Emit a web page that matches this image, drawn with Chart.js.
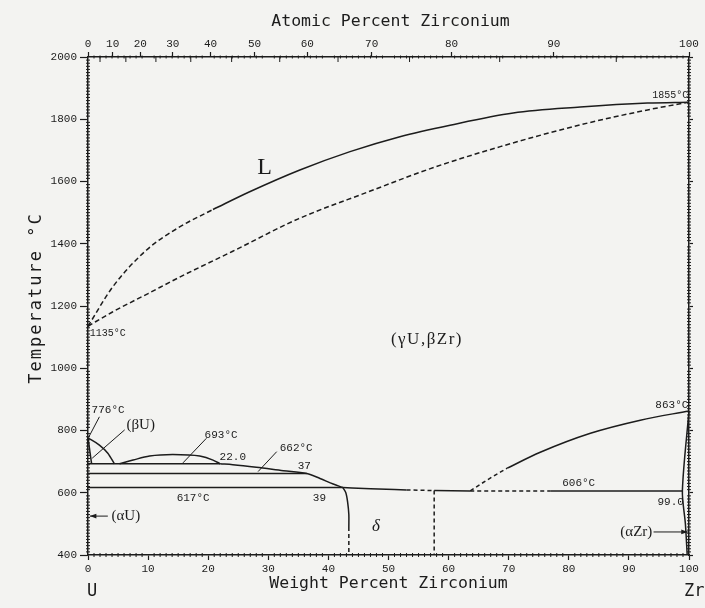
<!DOCTYPE html>
<html>
<head>
<meta charset="utf-8">
<script src="https://cdn.jsdelivr.net/npm/chart.js@4.4.1/dist/chart.umd.min.js"></script>
<style>
  body { margin: 0; background: #f3f3f1; }
  #wrap { width: 705px; height: 608px; }
</style>
</head>
<body>
<div id="wrap"><canvas id="myChart" width="705" height="608"></canvas></div>
<script>
// weight percent Zr (x) / temperature degC (y)
var liqDashWt = [0, 4.1, 9.75, 15.25, 20.8];
var liqDashT  = [1135, 1261, 1380, 1454, 1510];
var liqWt = [20.8, 26.9, 35.25, 43.6, 51.9, 60.25, 70.75, 81.9, 93.1, 100];
var liqT  = [1510, 1567, 1637, 1696, 1744, 1781, 1820, 1839, 1852, 1855];
var solWt = [0, 4, 10, 16, 24, 35, 46.4, 57.5, 68.6, 81.9, 93.1, 100];
var solT  = [1135, 1180, 1240, 1300, 1375, 1480, 1565, 1645, 1712, 1782, 1830, 1855];

var betaUWt = [0, 1.9, 3.3, 4.4];
var betaUT  = [776, 753, 727, 693];
var betaULeftWt = [0, 0.6];
var betaULeftT  = [776, 693];
var mono693Wt = [0, 22];
var mono693T  = [693, 693];
var domeWt = [5.25, 7.5, 10.25, 14.1, 18.6, 20.8, 22];
var domeT  = [693, 705, 718, 723, 718, 705, 693];
var gammaWt = [22, 24.1, 28, 32.5, 36.4, 38.6, 40.8, 42.4];
var gammaT  = [693, 690, 682, 671, 662, 646, 628, 617];
var eut662Wt = [0, 36.4];
var eut662T  = [662, 662];
var eut617Wt = [0, 42.4];
var eut617T  = [617, 617];
var deltaWt = [42.4, 42.9, 43.2, 43.4, 43.4];
var deltaT  = [617, 600, 570, 530, 490];
var deltaDashWt = [43.4, 43.4];
var deltaDashT  = [490, 400];
var eutA_Wt = [42.4, 47, 53];
var eutA_T  = [617, 613, 609];
var eutB_Wt = [53, 57.6];
var eutB_T  = [609, 607];
var eutC_Wt = [57.6, 63.6];
var eutC_T  = [607, 606];
var eutD_Wt = [63.6, 77];
var eutD_T  = [606, 606];
var eutE_Wt = [77, 98.9];
var eutE_T  = [606, 606];
var deltaZrWt = [57.6, 57.6];
var deltaZrT  = [607, 400];
var zrDashWt = [63.6, 66.5, 69.75];
var zrDashT  = [606, 642, 679];
var zrWt = [69.75, 75.25, 83.6, 91.9, 100];
var zrT  = [679, 730, 791, 833, 863];
var alphaZrWt = [100, 98.9, 99.4, 99.7];
var alphaZrT  = [863, 606, 500, 400];

// leader lines
var lead776 = [[1.9, 844], [0.1, 778]];
var leadBeta = [[6.1, 802], [0.7, 711]];
var lead693 = [[19.7, 775], [15.8, 696]];
var lead662 = [[31.4, 732], [28.3, 668]];
var arrowAlphaU = [[3.3, 525], [0.3, 525]];
var arrowAlphaZr = [[94.1, 474], [99.8, 474]];

// top axis: atomic percent ticks placed at their weight percent
var atLabels = ['0', '10', '20', '30', '40', '50', '60', '70', '80', '90', '100'];
var atTickWt = [0, 4.1, 8.7, 14.1, 20.4, 27.7, 36.5, 47.2, 60.5, 77.5, 100];
var atHalfTickWt = [2.0, 6.3, 11.3, 17.1, 23.9, 31.9, 41.6, 53.5, 68.5, 87.9];

var ink = '#1c1c1c';
var tickFont = { family: 'Liberation Mono', size: 11 };

var notes = [
    { t: 'L', x: 29.4, y: 1643, f: '24px "Liberation Serif"', a: 'center' },
    { t: '(\u03B3U,\u03B2Zr)', x: 56.4, y: 1091, f: '17px "Liberation Serif"', a: 'center', sp: '1.5px' },
    { t: '1135\u00B0C', x: 0.3, y: 1113, f: '10px "Liberation Mono"', a: 'left' },
    { t: '1855\u00B0C', x: 93.9, y: 1878, f: '10px "Liberation Mono"', a: 'left' },
    { t: '776\u00B0C', x: 0.6, y: 866, f: '11px "Liberation Mono"', a: 'left' },
    { t: '(\u03B2U)', x: 6.4, y: 818, f: '15px "Liberation Serif"', a: 'left' },
    { t: '693\u00B0C', x: 19.4, y: 786, f: '11px "Liberation Mono"', a: 'left' },
    { t: '22.0', x: 21.9, y: 715, f: '11px "Liberation Mono"', a: 'left' },
    { t: '662\u00B0C', x: 31.9, y: 744, f: '11px "Liberation Mono"', a: 'left' },
    { t: '37', x: 34.9, y: 686, f: '11px "Liberation Mono"', a: 'left' },
    { t: '617\u00B0C', x: 14.75, y: 583, f: '11px "Liberation Mono"', a: 'left' },
    { t: '39', x: 37.4, y: 583, f: '11px "Liberation Mono"', a: 'left' },
    { t: '(\u03B1U)', x: 3.9, y: 525, f: '15px "Liberation Serif"', a: 'left' },
    { t: '\u03B4', x: 47.9, y: 490, f: 'italic 17px "Liberation Serif"', a: 'center' },
    { t: '606\u00B0C', x: 78.9, y: 631, f: '11px "Liberation Mono"', a: 'left' },
    { t: '99.0', x: 94.75, y: 570, f: '11px "Liberation Mono"', a: 'left' },
    { t: '863\u00B0C', x: 94.4, y: 882, f: '11px "Liberation Mono"', a: 'left' },
    { t: '(\u03B1Zr)', x: 93.9, y: 474, f: '15px "Liberation Serif"', a: 'right' }
];

function pts(xs, ys) {
    return xs.map(function(x, i) { return { x: x, y: ys[i] }; });
}
function pairPts(p) {
    return p.map(function(q) { return { x: q[0], y: q[1] }; });
}
// smooth: 'm' = monotone cubic, number = bezier tension
function line(data, dash, smooth, width) {
    var ds = {
        data: data,
        showLine: true,
        borderColor: ink,
        borderWidth: width || 1.5,
        borderDash: dash || [],
        pointRadius: 0,
        tension: 0,
        clip: 4
    };
    if (smooth === 'm') ds.cubicInterpolationMode = 'monotone';
    else if (smooth) ds.tension = smooth;
    return ds;
}

var datasets = [
    line(pts(liqDashWt, liqDashT), [5, 3], 'm'),
    line(pts(liqWt, liqT), null, 'm'),
    line(pts(solWt, solT), [5, 3], 'm'),
    line(pts(betaUWt, betaUT), null, 'm'),
    line(pts(betaULeftWt, betaULeftT)),
    line(pts(mono693Wt, mono693T)),
    line(pts(domeWt, domeT), null, 'm'),
    line(pts(gammaWt, gammaT), null, 'm'),
    line(pts(eut662Wt, eut662T)),
    line(pts(eut617Wt, eut617T)),
    line(pts(deltaWt, deltaT), null, 0.3),
    line(pts(deltaDashWt, deltaDashT), [4, 3]),
    line(pts(eutA_Wt, eutA_T), null, 'm'),
    line(pts(eutB_Wt, eutB_T), [4, 3]),
    line(pts(eutC_Wt, eutC_T)),
    line(pts(eutD_Wt, eutD_T), [4, 3]),
    line(pts(eutE_Wt, eutE_T)),
    line(pts(deltaZrWt, deltaZrT), [4, 3]),
    line(pts(zrDashWt, zrDashT), [4, 3], 'm'),
    line(pts(zrWt, zrT), null, 'm'),
    line(pts(alphaZrWt, alphaZrT), null, 0.3),
    line(pairPts(lead776), null, 0, 1),
    line(pairPts(leadBeta), null, 0, 1),
    line(pairPts(lead693), null, 0, 1),
    line(pairPts(lead662), null, 0, 1),
    line(pairPts(arrowAlphaU), null, 0, 1),
    line(pairPts(arrowAlphaZr), null, 0, 1)
];

var paperPlugin = {
    id: 'paper',
    beforeDraw: function(chart) {
        var ctx = chart.ctx;
        ctx.save();
        ctx.fillStyle = '#f3f3f1';
        ctx.fillRect(0, 0, chart.width, chart.height);
        ctx.restore();
    }
};

function arrowHead(ctx, x1, y1, x2, y2) {
    var a = Math.atan2(y2 - y1, x2 - x1);
    ctx.beginPath();
    ctx.moveTo(x2, y2);
    ctx.lineTo(x2 - 7 * Math.cos(a - 0.35), y2 - 7 * Math.sin(a - 0.35));
    ctx.lineTo(x2 - 7 * Math.cos(a + 0.35), y2 - 7 * Math.sin(a + 0.35));
    ctx.closePath();
    ctx.fill();
}

var notesPlugin = {
    id: 'notes',
    afterDatasetsDraw: function(chart) {
        var ctx = chart.ctx, xs = chart.scales.x, ys = chart.scales.y;
        var area = chart.chartArea;
        ctx.save();
        ctx.fillStyle = ink;
        ctx.strokeStyle = ink;
        ctx.textBaseline = 'middle';
        notes.forEach(function(n) {
            ctx.font = n.f;
            ctx.textAlign = n.a;
            ctx.letterSpacing = n.sp || '0px';
            ctx.fillText(n.t, xs.getPixelForValue(n.x), ys.getPixelForValue(n.y));
        });
        ctx.letterSpacing = '0px';

        [arrowAlphaU, arrowAlphaZr].forEach(function(p) {
            arrowHead(ctx, xs.getPixelForValue(p[0][0]), ys.getPixelForValue(p[0][1]),
                xs.getPixelForValue(p[1][0]), ys.getPixelForValue(p[1][1]));
        });

        // minor ticks
        ctx.lineWidth = 1;
        ctx.beginPath();
        for (var w = 1; w < 100; w++) {
            if (w % 10 === 0) continue;
            var px = xs.getPixelForValue(w);
            ctx.moveTo(px, area.bottom - 2);
            ctx.lineTo(px, area.bottom + 2);
            ctx.moveTo(px, area.top - 1.5);
            ctx.lineTo(px, area.top + 1.5);
        }
        atHalfTickWt.forEach(function(v) {
            var px = xs.getPixelForValue(v);
            ctx.moveTo(px, area.top);
            ctx.lineTo(px, area.top + 5);
        });
        for (var t = 410; t < 2000; t += 10) {
            if (t % 200 === 0) continue;
            var py = ys.getPixelForValue(t);
            ctx.moveTo(area.left - 2, py);
            ctx.lineTo(area.left + 2, py);
            ctx.moveTo(area.right - 2, py);
            ctx.lineTo(area.right + 2, py);
        }
        ctx.stroke();

        // axis titles
        var cx = (area.left + area.right) / 2;
        ctx.font = '16.5px "DejaVu Sans Mono"';
        ctx.textAlign = 'center';
        ctx.fillText('Atomic Percent Zirconium', cx + 2, 22);
        ctx.fillText('Weight Percent Zirconium', cx, 584);
        ctx.font = '17px "DejaVu Sans Mono"';
        ctx.fillText('U', 92, 592);
        ctx.textAlign = 'left';
        ctx.fillText('Zr', 684, 592);
        ctx.save();
        ctx.translate(37, 298);
        ctx.rotate(-Math.PI / 2);
        ctx.textAlign = 'center';
        ctx.font = '17px "DejaVu Sans Mono"';
        ctx.letterSpacing = '2px';
        ctx.fillText('Temperature \u00B0C', 0, 0);
        ctx.restore();
        ctx.restore();
    }
};

var axisGrid = function(len) {
    return { drawOnChartArea: false, color: ink, tickColor: ink, tickLength: len, tickWidth: 1.2 };
};
var axisBorder = { display: true, color: ink, width: 1.5 };
var plainNum = function(v) { return String(v); };

var ctx = document.getElementById('myChart').getContext('2d');
var chart = new Chart(ctx, {
    type: 'scatter',
    data: { datasets: datasets },
    options: {
        responsive: false,
        animation: false,
        layout: { padding: 0 },
        plugins: { legend: { display: false }, tooltip: { enabled: false } },
        scales: {
            x: {
                type: 'linear', position: 'bottom', min: 0, max: 100,
                ticks: { stepSize: 10, color: ink, font: tickFont, padding: 2, maxRotation: 0, callback: plainNum },
                grid: axisGrid(5), border: axisBorder,
                afterFit: function(s) { s.height = 53; }
            },
            x2: {
                type: 'linear', position: 'top', min: 0, max: 100,
                afterBuildTicks: function(s) {
                    s.ticks = atTickWt.map(function(v) { return { value: v }; });
                },
                ticks: {
                    color: ink, font: tickFont, padding: 1, autoSkip: false, maxRotation: 0,
                    callback: function(v, i) { return atLabels[i]; }
                },
                grid: axisGrid(5), border: axisBorder,
                afterFit: function(s) { s.height = 57; }
            },
            y: {
                type: 'linear', position: 'left', min: 400, max: 2000,
                ticks: { stepSize: 200, color: ink, font: tickFont, padding: 3, callback: plainNum },
                grid: axisGrid(8), border: axisBorder,
                afterFit: function(s) { s.width = 88; }
            },
            y2: {
                type: 'linear', position: 'right', min: 400, max: 2000,
                ticks: { stepSize: 200, display: false },
                grid: axisGrid(4), border: axisBorder,
                afterFit: function(s) { s.width = 16; }
            }
        }
    },
    plugins: [paperPlugin, notesPlugin]
});
</script>
</body>
</html>
